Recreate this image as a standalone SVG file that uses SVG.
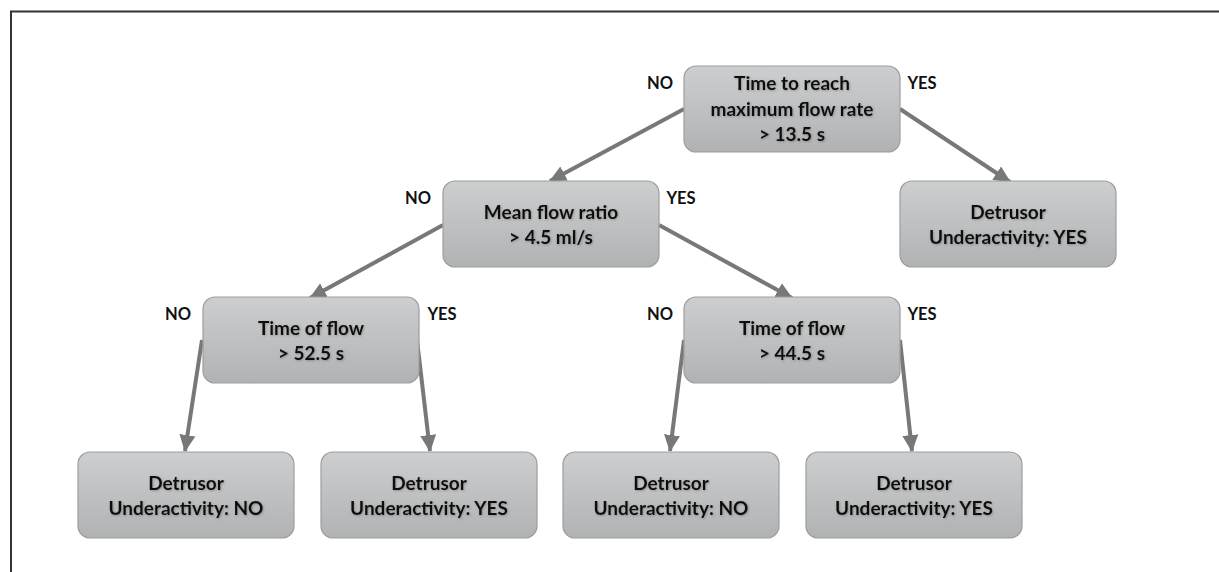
<svg xmlns="http://www.w3.org/2000/svg" width="1219" height="572" viewBox="0 0 1219 572">
<defs>
<linearGradient id="g" x1="0" y1="0" x2="0" y2="1">
<stop offset="0" stop-color="#cdcecf"/>
<stop offset="1" stop-color="#b1b2b3"/>
</linearGradient>
<filter id="sh" x="-10%" y="-30%" width="120%" height="160%">
<feDropShadow dx="0.8" dy="0.8" stdDeviation="0.8" flood-color="#555" flood-opacity="0.5"/>
</filter>
<marker id="ah" markerUnits="userSpaceOnUse" markerWidth="18" markerHeight="18" viewBox="0 0 18 18" refX="16" refY="9" orient="auto">
<path d="M0,1 L17,9 L0,17 Z" fill="#787878"/>
</marker>
</defs>
<style>
.box{fill:url(#g);stroke:#9c9d9e;stroke-width:1.2}
.t{font-family:Lato,"Open Sans","Liberation Sans",sans-serif;font-weight:bold;font-size:19px;fill:#111;text-anchor:middle;filter:url(#sh)}
.lbl{font-family:Lato,"Open Sans","Liberation Sans",sans-serif;font-weight:bold;font-size:16.5px;fill:#111;text-anchor:middle}
.c{stroke:#787878;stroke-width:4;fill:none;marker-end:url(#ah)}
</style>
<rect width="1219" height="572" fill="#fff"/>
<path d="M11,572 V11.5 H1219" fill="none" stroke="#333" stroke-width="2"/>
<g id="connectors">
<line class="c" x1="684" y1="109" x2="550" y2="181"/>
<line class="c" x1="900" y1="109" x2="1010" y2="182"/>
<line class="c" x1="443" y1="225" x2="310" y2="298"/>
<line class="c" x1="659" y1="225" x2="792" y2="298"/>
<line class="c" x1="202" y1="340" x2="185" y2="451"/>
<line class="c" x1="417" y1="340" x2="430" y2="451"/>
<line class="c" x1="684" y1="340" x2="670" y2="451"/>
<line class="c" x1="900" y1="340" x2="912" y2="451"/>
</g>
<g id="labels">
<text class="lbl" x="660" y="89">NO</text>
<text class="lbl" x="922" y="89">YES</text>
<text class="lbl" x="418" y="204">NO</text>
<text class="lbl" x="681" y="204">YES</text>
<text class="lbl" x="178" y="320">NO</text>
<text class="lbl" x="442" y="320">YES</text>
<text class="lbl" x="660" y="320">NO</text>
<text class="lbl" x="922" y="320">YES</text>
</g>
<g id="n1"><rect class="box" x="684" y="66" width="216" height="86" rx="12"/>
<text class="t" x="792" y="90">Time to reach</text>
<text class="t" x="792" y="116">maximum flow rate</text>
<text class="t" x="792" y="141">&gt; 13.5 s</text></g>
<g id="n2"><rect class="box" x="443" y="181" width="216" height="86" rx="12"/>
<text class="t" x="551" y="219">Mean flow ratio</text>
<text class="t" x="551" y="244">&gt; 4.5 ml/s</text></g>
<g id="n3"><rect class="box" x="900" y="181" width="216" height="86" rx="12"/>
<text class="t" x="1008" y="219">Detrusor</text>
<text class="t" x="1008" y="244">Underactivity: YES</text></g>
<g id="n4"><rect class="box" x="203" y="297" width="216" height="86" rx="12"/>
<text class="t" x="311" y="335">Time of flow</text>
<text class="t" x="311" y="360">&gt; 52.5 s</text></g>
<g id="n5"><rect class="box" x="684" y="297" width="216" height="86" rx="12"/>
<text class="t" x="792" y="335">Time of flow</text>
<text class="t" x="792" y="360">&gt; 44.5 s</text></g>
<g id="n6"><rect class="box" x="78" y="452" width="216" height="86" rx="12"/>
<text class="t" x="186" y="490">Detrusor</text>
<text class="t" x="186" y="515">Underactivity: NO</text></g>
<g id="n7"><rect class="box" x="321" y="452" width="216" height="86" rx="12"/>
<text class="t" x="429" y="490">Detrusor</text>
<text class="t" x="429" y="515">Underactivity: YES</text></g>
<g id="n8"><rect class="box" x="563" y="452" width="216" height="86" rx="12"/>
<text class="t" x="671" y="490">Detrusor</text>
<text class="t" x="671" y="515">Underactivity: NO</text></g>
<g id="n9"><rect class="box" x="806" y="452" width="216" height="86" rx="12"/>
<text class="t" x="914" y="490">Detrusor</text>
<text class="t" x="914" y="515">Underactivity: YES</text></g>
</svg>
